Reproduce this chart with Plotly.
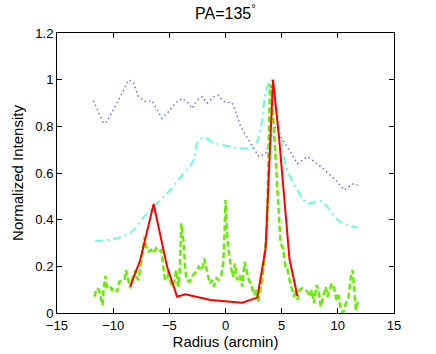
import plotly.graph_objects as go

# blue dotted
blue_x = [-11.76, -11.16, -10.86, -10.56, -9.82, -9.2, -8.63, -8.18, -7.74, -7.14, -6.55, -6.1, -5.65,
          -5.06, -4.46, -3.87, -3.42, -2.97, -2.53, -2.08, -1.64, -1.04, -0.65, -0.15, 0.6, 0.9, 1.34,
          2.23, 2.98, 3.57, 4.1, 4.6, 4.9, 5.5, 6.4, 7.3, 8.5, 9.8, 10.56, 11.3, 11.76]
blue_y = [0.91, 0.841, 0.813, 0.82, 0.884, 0.942, 0.999, 0.985, 0.927, 0.906, 0.91, 0.87, 0.834,
          0.863, 0.9, 0.92, 0.906, 0.877, 0.913, 0.927, 0.9, 0.927, 0.934, 0.906, 0.9, 0.863, 0.8,
          0.727, 0.67, 0.684, 0.76, 0.81, 0.756, 0.713, 0.64, 0.67, 0.627, 0.57, 0.527, 0.553, 0.549]

# cyan dash-dot
cyan_x = [-11.6, -9.97, -8.48, -6.99, -5.2, -3.72, -2.83, -2.53, -1.94, -1.04, 0.45, 1.34, 2.53,
          3.1, 3.57, 4.0, 4.46, 4.9, 5.4, 6.4, 7.3, 8.48, 9.97, 10.86, 11.76]
cyan_y = [0.309, 0.317, 0.344, 0.427, 0.513, 0.599, 0.656, 0.727, 0.753, 0.73, 0.713, 0.706, 0.713,
          0.784, 0.942, 1.0, 0.9, 0.77, 0.627, 0.527, 0.47, 0.48, 0.4, 0.377, 0.367]

# green dashed
green_x = [-11.67, -11.46, -11.25, -11.07, -10.95, -10.86, -10.7, -10.56, -10.35, -10.1, -9.87, -9.67,
           -9.46, -9.22, -8.99, -8.86, -8.68, -8.48, -8.33, -8.04, -7.8, -7.59, -7.38, -7.2, -7.08,
           -6.85, -6.6, -6.4, -6.19, -5.95, -5.71, -5.6, -5.42, -5.2, -5.06, -4.91, -4.7, -4.52, -4.4,
           -4.22, -4.1, -3.93, -3.72, -3.6, -3.48, -3.19, -2.89, -2.59, -2.38, -2.08, -1.88, -1.64,
           -1.4, -1.19, -1.04, -0.8, -0.6, -0.38, -0.2, -0.09, 0.0, 0.15, 0.3, 0.51, 0.68, 0.83, 1.04,
           1.28, 1.49, 1.7, 1.88, 2.08, 2.29, 2.53, 2.77, 2.92, 3.06, 3.27, 3.48, 3.72, 3.85, 3.96,
           4.1, 4.3, 4.5, 4.75, 4.9, 5.12, 5.36, 5.5, 5.65, 5.8, 5.95, 6.1, 6.25, 6.4, 6.6, 6.85, 7.08,
           7.3, 7.5, 7.68, 7.89, 8.1, 8.28, 8.48, 8.69, 8.93, 9.08, 9.29, 9.46, 9.67, 9.88, 10.06,
           10.27, 10.47, 10.71, 10.95, 11.16, 11.31, 11.46, 11.61, 11.76]
green_y = [0.07, 0.106, 0.099, 0.063, 0.034, 0.099, 0.159, 0.113, 0.12, 0.099, 0.106, 0.091,
           0.134, 0.138, 0.141, 0.184, 0.149, 0.106, 0.141, 0.184, 0.141, 0.184, 0.263, 0.327, 0.284,
           0.263, 0.27, 0.256, 0.277, 0.263, 0.27, 0.227, 0.149, 0.141, 0.184, 0.134, 0.113, 0.141,
           0.184, 0.113, 0.156, 0.384, 0.299, 0.198, 0.141, 0.134, 0.163, 0.177, 0.198, 0.184, 0.234,
           0.177, 0.127, 0.141, 0.113, 0.149, 0.141, 0.163, 0.213, 0.341, 0.484, 0.327, 0.256, 0.191,
           0.156, 0.213, 0.141, 0.163, 0.113, 0.22, 0.177, 0.141, 0.12, 0.077, 0.099, 0.048, 0.091,
           0.141, 0.241, 0.384, 0.75, 0.98, 0.96, 0.8, 0.62, 0.4, 0.3, 0.277, 0.191, 0.19, 0.149,
           0.12, 0.099, 0.07, 0.099, 0.056, 0.099, 0.106, 0.099, 0.091, 0.07, 0.099, 0.042, 0.12,
           0.099, 0.027, 0.07, 0.113, 0.07, 0.099, 0.127, 0.106, 0.056, 0.077, 0.013, 0.0, 0.042,
           0.07, 0.156, 0.184, 0.099, 0.013, 0.048]

# red solid
red_x = [-8.48, -7.59, -6.4, -5.2, -4.31, -3.57, -1.34, 1.49, 2.83, 3.57, 4.23, 4.76, 5.7, 6.4]
red_y = [0.113, 0.227, 0.467, 0.198, 0.07, 0.08, 0.056, 0.044, 0.066, 0.277, 1.0, 0.756, 0.23, 0.073]

fig = go.Figure()
fig.add_trace(go.Scatter(x=blue_x, y=blue_y, mode="lines",
                         line=dict(color="#6070ff", width=1.5, dash="1.5px,3px")))
fig.add_trace(go.Scatter(x=cyan_x, y=cyan_y, mode="lines",
                         line=dict(color="#66ffdd", width=2, dash="8px,4px,2px,4px", shape="spline")))
fig.add_trace(go.Scatter(x=green_x, y=green_y, mode="lines",
                         line=dict(color="#66ee00", width=2.5, dash="6px,3px")))
fig.add_trace(go.Scatter(x=red_x, y=red_y, mode="lines",
                         line=dict(color="#ff0000", width=2)))

axis_style = dict(showline=True, linecolor="black", linewidth=1, mirror="ticks",
                  ticks="inside", ticklen=5, tickcolor="black", showgrid=False, zeroline=False,
                  automargin=False, tickfont=dict(size=13, color="black"))

fig.update_layout(
    width=436, height=354,
    paper_bgcolor="white", plot_bgcolor="white",
    showlegend=False,
    font=dict(family="Liberation Sans, Arial, sans-serif", color="black"),
    margin=dict(l=57, r=42, t=33, b=41),
    title=dict(text="PA=135<sup>°</sup>", x=0.517, xanchor="center", y=0.962, yanchor="middle",
               font=dict(size=16)),
)
fig.update_xaxes(range=[-15, 15], dtick=5, ticklabelstandoff=0,
                 title=dict(text="Radius (arcmin)", font=dict(size=15), standoff=2),
                 **axis_style)
fig.update_yaxes(range=[0, 1.2], dtick=0.2,
                 title=dict(text="Normalized Intensity", font=dict(size=15), standoff=8),
                 **axis_style)

# drop the page's default body margin so the figure sits at the window's corner
fig.write_html("out.html", config={"displayModeBar": False},
               post_script="document.body.style.margin='0';")
